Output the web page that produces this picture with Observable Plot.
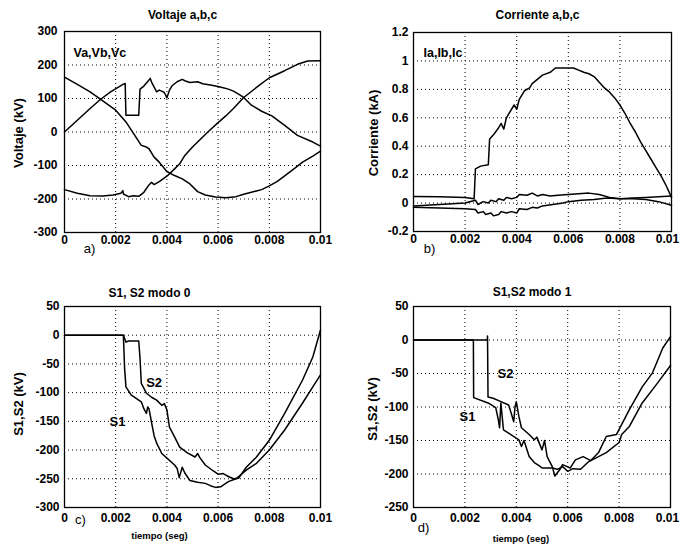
<!DOCTYPE html>
<html>
<head>
<meta charset="utf-8">
<script src="https://cdn.jsdelivr.net/npm/d3@7"></script>
<script src="https://cdn.jsdelivr.net/npm/@observablehq/plot@0.6"></script>
<style>
  body { margin: 0; background: #fff; }
  #root { position: relative; width: 681px; height: 555px; background: #fff; overflow: hidden; }
  .panel { position: absolute; }
</style>
</head>
<body>
<div id="root"></div>
<script>
// ---------- tick values ----------
const xTicks = [0, 0.002, 0.004, 0.006, 0.008, 0.01];
const yTicksA = [-300, -200, -100, 0, 100, 200, 300];
const yTicksB = [-0.2, 0, 0.2, 0.4, 0.6, 0.8, 1, 1.2];
const yTicksC = [-300, -250, -200, -150, -100, -50, 0, 50];
const yTicksD = [-250, -200, -150, -100, -50, 0, 50];

// ---------- panel a: Voltaje a,b,c (kV) ----------
const Va = [[0,0],[0.0005,35],[0.001,70],[0.0014,97],[0.0018,120],[0.0023,143],[0.00237,145],[0.0024,50],[0.0029,50],[0.00295,128],[0.0031,137],[0.0033,155],[0.00335,160],[0.0034,149],[0.0036,120],[0.0037,125],[0.0038,122],[0.0039,118],[0.004,102],[0.0041,125],[0.0042,138],[0.0044,150],[0.0046,157],[0.0047,153],[0.0049,148],[0.0052,150],[0.0054,144],[0.0057,140],[0.0059,137],[0.0062,132],[0.0064,128],[0.0066,122],[0.0068,113],[0.007,103],[0.0073,80],[0.0077,62],[0.0081,48],[0.0086,20],[0.0091,-10],[0.0097,-30],[0.01,-42]];
const Vb = [[0,164],[0.0005,142],[0.001,120],[0.0014,98],[0.002,65],[0.0024,30],[0.0027,-5],[0.003,-40],[0.0032,-45],[0.0033,-50],[0.0035,-75],[0.0037,-90],[0.004,-118],[0.0043,-130],[0.0046,-140],[0.0049,-155],[0.0052,-178],[0.0055,-188],[0.0059,-194],[0.0063,-196],[0.0067,-193],[0.007,-186],[0.0073,-180],[0.0077,-172],[0.008,-161],[0.0083,-148],[0.0086,-131],[0.009,-108],[0.0093,-90],[0.0097,-72],[0.01,-57]];
const Vc = [[0,-172],[0.0005,-183],[0.001,-190],[0.0015,-191],[0.0019,-188],[0.0022,-183],[0.00228,-175],[0.0023,-185],[0.0025,-193],[0.0027,-190],[0.0029,-192],[0.0031,-180],[0.0033,-158],[0.0034,-150],[0.0035,-157],[0.0037,-148],[0.004,-132],[0.0043,-110],[0.0045,-95],[0.0047,-70],[0.005,-45],[0.0052,-30],[0.0056,0],[0.006,28],[0.0063,48],[0.0066,70],[0.007,103],[0.0075,133],[0.008,162],[0.0086,183],[0.0091,202],[0.0095,212],[0.01,213]];

// ---------- panel b: Corriente a,b,c (kA) ----------
const Ia = [[0,0.046],[0.001,0.044],[0.002,0.04],[0.00235,0.03],[0.0024,0.24],[0.0026,0.26],[0.0029,0.27],[0.00295,0.45],[0.0031,0.48],[0.0033,0.53],[0.0034,0.56],[0.0035,0.52],[0.0036,0.6],[0.0038,0.66],[0.0039,0.69],[0.004,0.66],[0.0041,0.73],[0.0043,0.79],[0.0045,0.81],[0.0046,0.84],[0.0048,0.87],[0.005,0.9],[0.0053,0.92],[0.0055,0.95],[0.006,0.95],[0.0062,0.95],[0.0064,0.935],[0.0066,0.92],[0.0068,0.91],[0.007,0.89],[0.0072,0.85],[0.0074,0.81],[0.0076,0.78],[0.0078,0.74],[0.008,0.69],[0.0082,0.63],[0.0084,0.56],[0.0086,0.5],[0.0088,0.43],[0.009,0.37],[0.0092,0.31],[0.0094,0.25],[0.0096,0.19],[0.0098,0.12],[0.01,0.04]];
const Ib = [[0,-0.02],[0.001,-0.01],[0.002,0.0],[0.0024,0.02],[0.0025,-0.01],[0.0027,0.01],[0.0029,0.0],[0.003,0.02],[0.0032,0.01],[0.0033,0.03],[0.0035,0.02],[0.0036,0.04],[0.0038,0.03],[0.004,0.04],[0.0041,0.06],[0.0044,0.055],[0.0046,0.07],[0.0048,0.05],[0.005,0.06],[0.0053,0.05],[0.0056,0.055],[0.006,0.06],[0.0064,0.065],[0.0068,0.07],[0.0072,0.06],[0.0076,0.04],[0.008,0.03],[0.0085,0.035],[0.009,0.04],[0.0095,0.045],[0.01,0.05]];
const Ic = [[0,-0.03],[0.001,-0.035],[0.002,-0.04],[0.0024,-0.045],[0.0025,-0.07],[0.0027,-0.06],[0.0028,-0.08],[0.003,-0.07],[0.0031,-0.09],[0.0033,-0.08],[0.0034,-0.06],[0.0036,-0.07],[0.0038,-0.06],[0.004,-0.07],[0.0041,-0.04],[0.0044,-0.045],[0.0046,-0.03],[0.0048,-0.035],[0.005,-0.02],[0.0054,-0.01],[0.0058,0.0],[0.006,0.01],[0.0065,0.02],[0.007,0.025],[0.0075,0.035],[0.008,0.03],[0.0085,0.03],[0.009,0.025],[0.0095,0.01],[0.01,-0.015]];

// ---------- panel c: S1, S2 modo 0 (kV) ----------
const S1m0 = [[0,0],[0.0023,0],[0.00235,-60],[0.0024,-90],[0.0026,-104],[0.0028,-110],[0.003,-116],[0.0031,-128],[0.0032,-136],[0.00325,-125],[0.0033,-128],[0.0034,-152],[0.0035,-175],[0.0036,-188],[0.0038,-206],[0.0041,-218],[0.0043,-226],[0.0044,-232],[0.00448,-248],[0.0046,-230],[0.0047,-240],[0.0049,-253],[0.0052,-256],[0.0055,-258],[0.0057,-262],[0.0059,-265],[0.0061,-264],[0.0062,-261],[0.0064,-255],[0.0067,-250],[0.0071,-235],[0.0075,-223],[0.008,-200],[0.0086,-165],[0.0093,-118],[0.0097,-90],[0.01,-69]];
const S2m0 = [[0,0],[0.0023,0],[0.0024,-12],[0.0025,-10],[0.0029,-10],[0.00295,-40],[0.003,-84],[0.0032,-101],[0.0034,-108],[0.0036,-113],[0.0038,-122],[0.0039,-119],[0.004,-130],[0.0041,-160],[0.0043,-177],[0.0045,-195],[0.0048,-205],[0.0051,-212],[0.0052,-206],[0.0053,-214],[0.0055,-226],[0.0058,-236],[0.006,-242],[0.0062,-241],[0.0064,-246],[0.0066,-250],[0.0068,-249],[0.0071,-230],[0.0075,-212],[0.008,-183],[0.0086,-136],[0.0093,-78],[0.0097,-38],[0.01,9]];

// ---------- panel d: S1,S2 modo 1 (kV) ----------
const S1m1 = [[0,0],[0.00233,0],[0.00234,-86],[0.0029,-94],[0.0032,-101],[0.0033,-119],[0.00335,-131],[0.0034,-94],[0.0035,-134],[0.0037,-139],[0.0041,-149],[0.0042,-159],[0.0043,-150],[0.0045,-174],[0.0047,-183],[0.0049,-188],[0.005,-191],[0.0054,-191],[0.0056,-193],[0.0058,-189],[0.006,-196],[0.0062,-192],[0.0065,-193],[0.0068,-182],[0.0072,-174],[0.0075,-168],[0.008,-153],[0.0081,-141],[0.0084,-129],[0.0089,-94],[0.0095,-64],[0.01,-38]];
const S2m1 = [[0,0],[0.00287,0],[0.00288,6],[0.0029,-85],[0.0031,-87],[0.0034,-92],[0.0037,-97],[0.0038,-109],[0.0039,-122],[0.00395,-100],[0.004,-92],[0.0041,-114],[0.0042,-131],[0.0045,-141],[0.0047,-149],[0.0048,-145],[0.005,-164],[0.0051,-150],[0.0052,-174],[0.0054,-189],[0.0055,-203],[0.0057,-193],[0.0058,-186],[0.0061,-191],[0.0063,-179],[0.0066,-174],[0.0069,-180],[0.0072,-168],[0.0075,-144],[0.0079,-141],[0.0084,-104],[0.0089,-70],[0.0093,-49],[0.0097,-12],[0.01,5]];

// ---------- drawing ----------
const FONT = "'Liberation Sans', Arial, Helvetica, sans-serif";
const fmt = d => String(+(+d).toFixed(6));

function panel(o) {
  const inner = (a) => a.slice(1, -1);
  const xLab = (ticks, dx) => Plot.text(ticks, {x: d => d, text: fmt, frameAnchor: "bottom", dy: o.xPad, dx, textAnchor: "middle", lineAnchor: "top", fontSize: 12, fontWeight: "bold"});
  const marks = [
    Plot.ruleX(inner(xTicks), {stroke: "black", strokeWidth: 1, strokeDasharray: "1,3"}),
    Plot.ruleY(inner(o.yTicks), {stroke: "black", strokeWidth: 1, strokeDasharray: "1,3"}),
    ...o.series.map(s => Plot.line(s, {x: d => d[0], y: d => d[1], stroke: "black", strokeWidth: 1.5, strokeLinejoin: "round"})),
    Plot.frame({stroke: "black", strokeWidth: 1.3}),
    xLab(xTicks.slice(0, -1), 0),
    xLab(xTicks.slice(-1), o.lastDx || 0),
    Plot.text([o.title], {text: d => d, frameAnchor: "top", dx: o.titleDx, dy: o.titleDy, textAnchor: "middle", lineAnchor: "middle", fontSize: 12, fontWeight: "bold"}),
    Plot.text([o.ylabel], {text: d => d, frameAnchor: "left", dx: o.ylabelDx, dy: o.ylabelDy || 0, rotate: -90, textAnchor: "middle", lineAnchor: "middle", fontSize: 13, fontWeight: "bold"}),
    Plot.text([o.letter], {text: d => d, frameAnchor: "bottom-left", dx: o.letterDx, dy: o.letterDy, textAnchor: "middle", lineAnchor: "middle", fontSize: 13, fontWeight: "normal"})
  ];
  if (o.xlabel) marks.push(Plot.text([o.xlabel], {text: d => d, frameAnchor: "bottom", dx: o.xlabelDx, dy: o.xlabelDy, textAnchor: "middle", lineAnchor: "middle", fontSize: 9.5, fontWeight: "bold"}));
  if (o.notes) marks.push(...o.notes);
  const svg = Plot.plot({
    width: o.width, height: o.height,
    marginLeft: o.ml, marginRight: o.mr, marginTop: o.mt, marginBottom: o.mb,
    style: {fontFamily: FONT, fontSize: "12px", fontWeight: "bold", color: "black", background: "transparent"},
    x: {domain: [0, 0.01], axis: null},
    y: {domain: o.yDomain, ticks: o.yTicks, tickFormat: fmt, tickSize: 0, tickPadding: o.yPad, label: null},
    marks
  });
  const div = document.createElement("div");
  div.className = "panel";
  div.style.left = o.left + "px";
  div.style.top = o.top + "px";
  div.appendChild(svg);
  document.getElementById("root").appendChild(div);
}

const note = (s, dx, dy) => Plot.text([s], {text: d => d, frameAnchor: "top-left", dx, dy, textAnchor: "start", lineAnchor: "middle", fontSize: 12.5, fontWeight: "bold"});

panel({
  left: 0, top: 0, width: 340, height: 270, ml: 64, mr: 20, mt: 31, mb: 38,
  yDomain: [-300, 300], yTicks: yTicksA, xPad: 3, yPad: 7,
  series: [Va, Vb, Vc],
  title: "Voltaje a,b,c", titleDx: -10, titleDy: -16,
  ylabel: "Voltaje (kV)", ylabelDx: -46, ylabelDy: 1,
  letter: "a)", letterDx: 25, letterDy: 16,
  notes: [note("Va,Vb,Vc", 9, 21)]
});

panel({
  left: 340, top: 0, width: 341, height: 270, ml: 73, mr: 10, mt: 32, mb: 39,
  yDomain: [-0.2, 1.2], yTicks: yTicksB, xPad: 3, yPad: 5, lastDx: -4,
  series: [Ia, Ib, Ic],
  title: "Corriente a,b,c", titleDx: -5, titleDy: -17,
  ylabel: "Corriente (kA)", ylabelDx: -40, ylabelDy: 1,
  letter: "b)", letterDx: 16, letterDy: 17,
  notes: [note("Ia,Ib,Ic", 10, 20)]
});

panel({
  left: 0, top: 270, width: 340, height: 285, ml: 64, mr: 20, mt: 36, mb: 48,
  yDomain: [-300, 50], yTicks: yTicksC, xPad: 6, yPad: 5,
  series: [S1m0, S2m0],
  title: "S1, S2 modo 0", titleDx: -43, titleDy: -13,
  ylabel: "S1,S2 (kV)", ylabelDx: -46, ylabelDy: -3,
  letter: "c)", letterDx: 16, letterDy: 12,
  xlabel: "tiempo (seg)", xlabelDx: -33, xlabelDy: 28,
  notes: [
    Plot.text([{t: 0.0035, v: -83, s: "S2"}, {t: 0.00207, v: -151, s: "S1"}], {x: "t", y: "v", text: "s", fontSize: 13, fontWeight: "bold", textAnchor: "middle", lineAnchor: "middle"})
  ]
});

panel({
  left: 340, top: 270, width: 341, height: 285, ml: 73, mr: 11, mt: 36, mb: 48,
  yDomain: [-250, 50], yTicks: yTicksD, xPad: 6, yPad: 5, lastDx: -3,
  series: [S1m1, S2m1],
  title: "S1,S2 modo 1", titleDx: -10, titleDy: -14,
  ylabel: "S1,S2 (kV)", ylabelDx: -41, ylabelDy: 2,
  letter: "d)", letterDx: 10, letterDy: 20,
  xlabel: "tiempo (seg)", xlabelDx: -21, xlabelDy: 31,
  notes: [
    Plot.text([{t: 0.00358, v: -51, s: "S2"}, {t: 0.0021, v: -115, s: "S1"}], {x: "t", y: "v", text: "s", fontSize: 13, fontWeight: "bold", textAnchor: "middle", lineAnchor: "middle"})
  ]
});
</script>
</body>
</html>
